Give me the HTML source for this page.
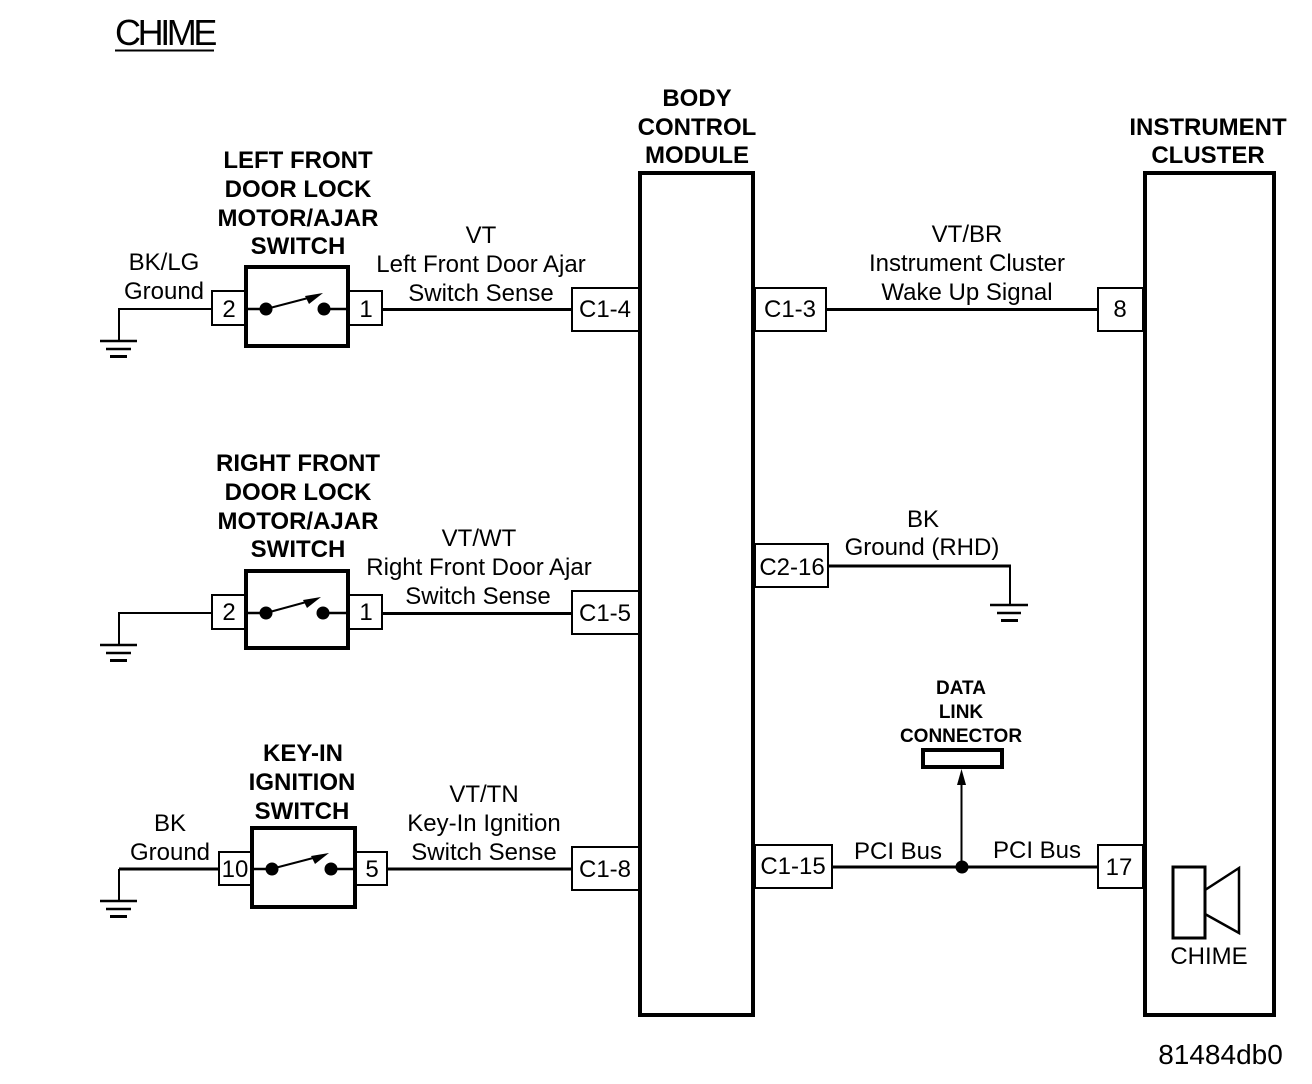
<!DOCTYPE html>
<html>
<head>
<meta charset="utf-8">
<style>
html,body{margin:0;padding:0;background:#fff;width:1312px;height:1084px;overflow:hidden}
svg{display:block}
text{font-family:"Liberation Sans",sans-serif;font-size:24px;fill:#000;text-anchor:middle}
.b{font-weight:bold}
.s{font-weight:bold;font-size:19px}
.st{font-size:36px;text-anchor:start;letter-spacing:-3.4px}
</style>
</head>
<body>
<svg width="1312" height="1084" viewBox="0 0 1312 1084" xmlns="http://www.w3.org/2000/svg">
<g fill="none" stroke="#000">
  <!-- title underline -->
  <path d="M115 50.500H214" stroke-width="2"/>
  <!-- modules -->
  <rect x="640" y="173" width="113" height="842" stroke-width="4"/>
  <rect x="1145" y="173" width="129" height="842" stroke-width="4"/>

  <!-- switches -->
  <rect x="246" y="267" width="102" height="79" stroke-width="4"/>
  <rect x="246" y="571" width="102" height="77" stroke-width="4"/>
  <rect x="252" y="828" width="103" height="79" stroke-width="4"/>

  <!-- pins -->
  <g stroke-width="2">
    <rect x="212" y="291" width="33" height="34"/>
    <rect x="349" y="291" width="33" height="34"/>
    <rect x="212" y="595" width="33" height="34"/>
    <rect x="349" y="595" width="33" height="34"/>
    <rect x="219" y="852" width="32" height="33"/>
    <rect x="356" y="852" width="31" height="33"/>
    <rect x="572" y="288" width="67" height="43"/>
    <rect x="572" y="591" width="67" height="43"/>
    <rect x="572" y="847" width="67" height="43"/>
    <rect x="755" y="288" width="71" height="43"/>
    <rect x="755" y="544" width="73" height="43"/>
    <rect x="755" y="845" width="77" height="43"/>
    <rect x="1098" y="288" width="45" height="43"/>
    <rect x="1098" y="845" width="45" height="43"/>
  </g>

  <!-- wires -->
  <g stroke-width="2">
    <path d="M212 309H119V340"/>
    <path d="M212 613H119V644"/>
    <path d="M119 869V900"/>
    <path d="M1010 566V604"/>
    <path d="M961.500 867V780"/>
  </g>
  <g stroke-width="3">
    <path d="M119 869H219"/>
    <path d="M828 566H1011"/>
    <path d="M383 309.500H572"/>
    <path d="M383 613.500H572"/>
    <path d="M388 869H572"/>
    <path d="M826 309.500H1098"/>
    <path d="M832 867H1098"/>
  </g>
  <g stroke-width="2.500">
    <path d="M248 309H265M324 309H346"/>
    <path d="M248 613H265M322 613H346"/>
    <path d="M254 869H271M330 869H353"/>
  </g>

  <!-- switch blades -->
  <g stroke-width="2">
    <path d="M266 309L312 297"/>
    <path d="M266 613L310 601"/>
    <path d="M271 869L317 857"/>
  </g>

  <!-- grounds -->
  <g stroke-width="2.500">
    <path d="M100 341H137M106 349H131"/>
    <path d="M100 645H137M106 653H131"/>
    <path d="M100 901H137M106 909H131"/>
    <path d="M990 605H1028M997 613H1021"/>
  </g>
  <g stroke-width="3">
    <path d="M110 356.500H127M110 660.500H127M110 916.500H127M1001 620.500H1018"/>
  </g>

  <!-- DLC -->
  <rect x="923" y="750" width="79" height="17" stroke-width="4"/>

  <!-- speaker -->
  <rect x="1173" y="867" width="32" height="71" stroke-width="3"/>
  <path d="M1205 890L1239 868V933L1205 914" stroke-width="2.500"/>
</g>

<g fill="#000">
  <circle cx="266" cy="309" r="6.500"/><circle cx="324" cy="309" r="6.500"/>
  <path d="M323 293L305 296L309 304Z"/>
  <circle cx="266" cy="613" r="6.500"/><circle cx="323" cy="613" r="6.500"/>
  <path d="M321 597L303 600L307 608Z"/>
  <circle cx="272" cy="869" r="6.500"/><circle cx="331" cy="869" r="6.500"/>
  <path d="M329 853L311 856L315 864Z"/>
  <circle cx="962" cy="867" r="6.500"/>
  <path d="M961.500 769L957 785H966Z"/>
</g>

<text class="st" x="115" y="45">CHIME</text>

<g class="b">
  <text class="b" x="697" y="106">BODY</text>
  <text class="b" x="697" y="135">CONTROL</text>
  <text class="b" x="697" y="163">MODULE</text>
  <text class="b" x="1208" y="135">INSTRUMENT</text>
  <text class="b" x="1208" y="163">CLUSTER</text>
  <text class="b" x="298" y="168">LEFT FRONT</text>
  <text class="b" x="298" y="197">DOOR LOCK</text>
  <text class="b" x="298" y="226">MOTOR/AJAR</text>
  <text class="b" x="298" y="254">SWITCH</text>
  <text class="b" x="298" y="471">RIGHT FRONT</text>
  <text class="b" x="298" y="500">DOOR LOCK</text>
  <text class="b" x="298" y="529">MOTOR/AJAR</text>
  <text class="b" x="298" y="557">SWITCH</text>
  <text class="b" x="303" y="761">KEY-IN</text>
  <text class="b" x="302" y="790">IGNITION</text>
  <text class="b" x="302" y="819">SWITCH</text>
</g>
<text class="s" x="961" y="694">DATA</text>
<text class="s" x="961" y="718">LINK</text>
<text class="s" x="961" y="742">CONNECTOR</text>

<text x="164" y="270">BK/LG</text>
<text x="164" y="299">Ground</text>
<text x="170" y="831">BK</text>
<text x="170" y="860">Ground</text>
<text x="481" y="243">VT</text>
<text x="481" y="272">Left Front Door Ajar</text>
<text x="481" y="301">Switch Sense</text>
<text x="479" y="546">VT/WT</text>
<text x="479" y="575">Right Front Door Ajar</text>
<text x="478" y="604">Switch Sense</text>
<text x="484" y="802">VT/TN</text>
<text x="484" y="831">Key-In Ignition</text>
<text x="484" y="860">Switch Sense</text>
<text x="967" y="242">VT/BR</text>
<text x="967" y="271">Instrument Cluster</text>
<text x="967" y="300">Wake Up Signal</text>
<text x="923" y="527">BK</text>
<text x="922" y="555">Ground (RHD)</text>
<text x="898" y="859">PCI Bus</text>
<text x="1037" y="858">PCI Bus</text>

<text x="229" y="317">2</text>
<text x="366" y="317">1</text>
<text x="229" y="620">2</text>
<text x="366" y="620">1</text>
<text x="235" y="877">10</text>
<text x="372" y="877">5</text>
<text x="605" y="317">C1-4</text>
<text x="605" y="621">C1-5</text>
<text x="605" y="877">C1-8</text>
<text x="790" y="317">C1-3</text>
<text x="792" y="575">C2-16</text>
<text x="793" y="874">C1-15</text>
<text x="1120" y="317">8</text>
<text x="1119" y="875">17</text>
<text x="1209" y="964">CHIME</text>
<text style="font-size:28px" x="1220.500" y="1064">81484db0</text>
</svg>
</body>
</html>
